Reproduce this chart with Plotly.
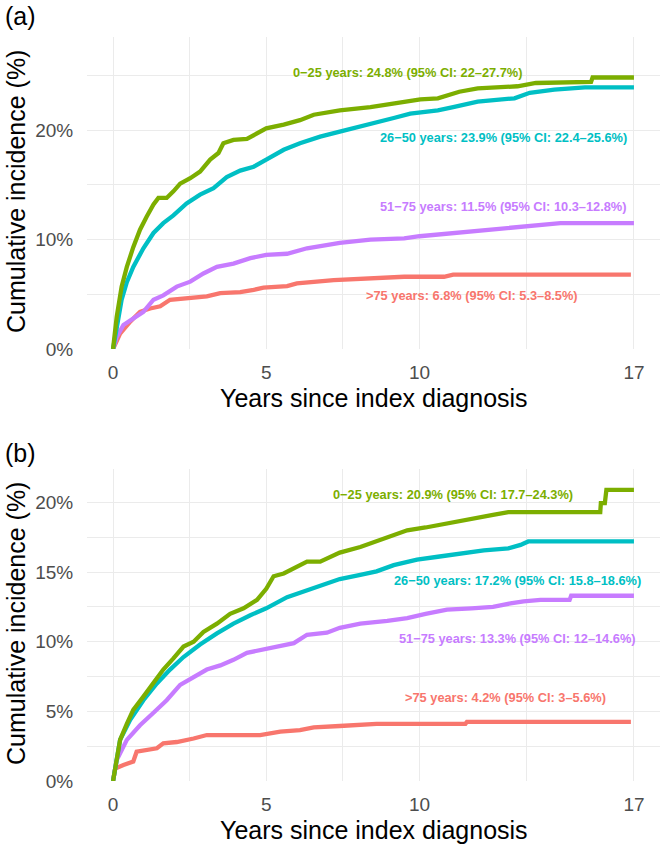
import plotly.graph_objects as go
from plotly.subplots import make_subplots

# ---------------- Data ----------------
groups = ["0\u221225 years", "26\u221250 years", "51\u221275 years", ">75 years"]
colors = ["#7CAE00", "#00BFC4", "#C77CFF", "#F8766D"]

# Panel (a): years since diagnosis / cumulative incidence (%)
a_g1_t = [0, 0.12, 0.28, 0.45, 0.66, 0.88, 1.1, 1.32, 1.48, 1.75, 1.97, 2.19, 2.52, 2.84, 3.17, 3.44, 3.6, 3.93, 4.37, 4.7, 5.0, 5.57, 6.1, 6.55, 7.2, 7.4, 8.4, 9.5, 10.03, 10.6, 10.9, 11.3, 11.9, 13.2, 13.8, 15.6, 15.65, 17.0]
a_g1_v = [0, 2.95, 5.7, 7.5, 9.3, 10.9, 12.1, 13.2, 13.8, 13.8, 14.4, 15.1, 15.6, 16.2, 17.3, 17.9, 18.8, 19.1, 19.2, 19.7, 20.15, 20.5, 20.9, 21.4, 21.7, 21.8, 22.1, 22.6, 22.8, 22.9, 23.2, 23.5, 23.8, 24.0, 24.3, 24.4, 24.8, 24.8]

a_g2_t = [0, 0.12, 0.28, 0.45, 0.66, 0.99, 1.32, 1.64, 1.97, 2.4, 2.84, 3.28, 3.71, 4.15, 4.59, 5.0, 5.57, 6.1, 6.76, 7.4, 7.85, 8.4, 9.16, 9.7, 10.6, 11.1, 11.9, 13.1, 13.6, 14.4, 15.4, 17.0]
a_g2_v = [0, 2.0, 4.5, 6.1, 7.5, 9.2, 10.6, 11.5, 12.2, 13.3, 14.1, 14.7, 15.7, 16.3, 16.65, 17.3, 18.2, 18.8, 19.4, 19.85, 20.15, 20.6, 21.1, 21.5, 21.8, 22.1, 22.6, 22.9, 23.4, 23.7, 23.9, 23.9]

a_g3_t = [0, 0.12, 0.34, 0.66, 0.99, 1.32, 1.64, 2.08, 2.52, 2.95, 3.39, 3.93, 4.48, 5.0, 5.68, 6.33, 6.98, 7.4, 8.4, 9.5, 10.0, 11.1, 12.2, 12.9, 13.8, 14.6, 17.0]
a_g3_v = [0, 1.1, 2.2, 2.8, 3.4, 4.5, 4.9, 5.7, 6.15, 6.9, 7.5, 7.8, 8.3, 8.6, 8.7, 9.2, 9.5, 9.7, 10.0, 10.1, 10.3, 10.6, 10.9, 11.1, 11.3, 11.5, 11.5]

a_g4_t = [0, 0.23, 0.56, 0.88, 1.21, 1.54, 1.86, 2.4, 3.06, 3.5, 4.15, 4.59, 4.91, 5.68, 6.0, 7.2, 8.4, 9.5, 10.8, 11.1, 16.9]
a_g4_v = [0, 1.4, 2.5, 3.4, 3.7, 3.9, 4.5, 4.6, 4.8, 5.1, 5.2, 5.4, 5.6, 5.75, 6.0, 6.3, 6.45, 6.6, 6.6, 6.8, 6.8]

# Panel (b)
b_g1_t = [0, 0.23, 0.45, 0.66, 0.99, 1.32, 1.64, 1.97, 2.3, 2.63, 2.95, 3.39, 3.82, 4.26, 4.7, 5.0, 5.24, 5.57, 6.0, 6.33, 6.76, 7.2, 7.4, 8.07, 8.6, 9.16, 9.6, 10.2, 10.9, 11.4, 12.0, 12.4, 12.9, 15.9, 15.92, 16.05, 16.1, 17.0]
b_g1_v = [0, 2.95, 4.1, 5.1, 6.06, 7.0, 8.0, 8.8, 9.65, 10.0, 10.7, 11.3, 12.0, 12.4, 13.0, 13.8, 14.7, 14.9, 15.4, 15.75, 15.75, 16.2, 16.4, 16.8, 17.2, 17.7, 18.0, 18.2, 18.5, 18.75, 19.0, 19.1, 19.3, 19.3, 19.95, 19.95, 20.9, 20.9]

b_g2_t = [0, 0.23, 0.56, 0.99, 1.43, 1.86, 2.3, 2.84, 3.39, 3.93, 4.48, 5.0, 5.68, 6.33, 6.98, 7.4, 8.07, 8.6, 9.16, 9.92, 10.6, 11.3, 12.1, 12.9, 13.3, 13.55, 17.0]
b_g2_v = [0, 2.95, 4.4, 5.8, 7.0, 8.0, 8.9, 9.8, 10.6, 11.3, 11.9, 12.4, 13.2, 13.7, 14.2, 14.5, 14.8, 15.05, 15.5, 15.9, 16.1, 16.3, 16.55, 16.7, 16.95, 17.2, 17.2]

b_g3_t = [0, 0.12, 0.45, 0.88, 1.32, 1.75, 2.19, 2.63, 3.06, 3.5, 3.93, 4.37, 4.8, 5.35, 5.9, 6.33, 6.98, 7.4, 8.07, 8.95, 9.6, 10.2, 10.9, 11.7, 12.4, 12.97, 13.4, 13.95, 14.9, 14.95, 17.0]
b_g3_v = [0, 1.5, 2.95, 4.0, 4.9, 5.8, 6.9, 7.5, 8.0, 8.3, 8.7, 9.2, 9.4, 9.7, 9.9, 10.5, 10.65, 11.0, 11.3, 11.5, 11.7, 12.0, 12.3, 12.4, 12.5, 12.75, 12.9, 13.0, 13.0, 13.3, 13.3]

b_g4_t = [0, 0.07, 0.34, 0.66, 0.77, 1.1, 1.43, 1.64, 2.08, 2.63, 3.06, 4.8, 5.46, 6.1, 6.55, 7.4, 8.6, 11.5, 11.55, 16.9]
b_g4_v = [0, 0.9, 1.15, 1.4, 2.1, 2.2, 2.35, 2.7, 2.8, 3.05, 3.3, 3.3, 3.55, 3.65, 3.85, 3.95, 4.1, 4.1, 4.25, 4.25]

a_labels = [
    "0\u221225 years: 24.8% (95% CI: 22\u201327.7%)",
    "26\u221250 years: 23.9% (95% CI: 22.4\u201325.6%)",
    "51\u221275 years: 11.5% (95% CI: 10.3\u201312.8%)",
    ">75 years: 6.8% (95% CI: 5.3\u20138.5%)",
]
b_labels = [
    "0\u221225 years: 20.9% (95% CI: 17.7\u201324.3%)",
    "26\u221250 years: 17.2% (95% CI: 15.8\u201318.6%)",
    "51\u221275 years: 13.3% (95% CI: 12\u201314.6%)",
    ">75 years: 4.2% (95% CI: 3\u20135.6%)",
]
a_label_x = [9.6, 12.75, 12.75, 11.7]
a_label_y = [25.3, 19.3, 13.0, 4.9]
b_label_x = [11.1, 13.2, 13.2, 12.8]
b_label_y = [20.6, 14.4, 10.2, 6.0]

x_ticks = [0, 5, 10, 17]
x_minor = [2.5, 7.5, 13.5]
a_y_ticks = [0, 10, 20]
a_y_minor = [5, 15, 25]
b_y_ticks = [0, 5, 10, 15, 20]
b_y_minor = [2.5, 7.5, 12.5, 17.5]

# ---------------- Figure ----------------
FONT = "Liberation Sans, Arial, Helvetica, sans-serif"
W, H = 664, 847
L, R, T, B = 87, 4, 37, 66
plot_h = H - T - B

fig = make_subplots(rows=2, cols=1, vertical_spacing=0.0)

a_series = [(a_g1_t, a_g1_v), (a_g2_t, a_g2_v), (a_g3_t, a_g3_v), (a_g4_t, a_g4_v)]
b_series = [(b_g1_t, b_g1_v), (b_g2_t, b_g2_v), (b_g3_t, b_g3_v), (b_g4_t, b_g4_v)]

LW = 4.3
draw_order = [3, 2, 1, 0]
for i in draw_order:
    t, v = a_series[i]
    fig.add_trace(go.Scatter(x=t, y=v, mode="lines", line=dict(color=colors[i], width=LW),
                             name=groups[i], showlegend=False), row=1, col=1)
for i in draw_order:
    t, v = b_series[i]
    fig.add_trace(go.Scatter(x=t, y=v, mode="lines", line=dict(color=colors[i], width=LW),
                             name=groups[i], showlegend=False), row=2, col=1)

ANN = 12.8
for i in range(4):
    fig.add_annotation(x=a_label_x[i], y=a_label_y[i], xref="x", yref="y", text="<b>%s</b>" % a_labels[i],
                       showarrow=False, xanchor="center", yanchor="middle",
                       font=dict(family=FONT, size=ANN, color=colors[i]))
    fig.add_annotation(x=b_label_x[i], y=b_label_y[i], xref="x2", yref="y2", text="<b>%s</b>" % b_labels[i],
                       showarrow=False, xanchor="center", yanchor="middle",
                       font=dict(family=FONT, size=ANN, color=colors[i]))

def px_y(p):
    return (H - B - p) / plot_h

def px_x(p):
    return (p - L) / (W - L - R)

grid = "#EBEBEB"
common_x = dict(range=[-0.85, 17.85], tickmode="array", tickvals=x_ticks, ticktext=[str(v) for v in x_ticks],
                showgrid=True, gridcolor=grid, gridwidth=1.3, zeroline=False, showline=False,
                ticks="outside", ticklen=6, tickcolor="rgba(0,0,0,0)",
                tickfont=dict(family=FONT, size=19, color="#4D4D4D"),
                minor=dict(tickmode="array", tickvals=x_minor, showgrid=True, gridcolor=grid, gridwidth=0.8))
fig.update_xaxes(**common_x)

fig.update_yaxes(range=[0, 28.5], tickmode="array", tickvals=a_y_ticks, ticktext=["%d%%" % v for v in a_y_ticks],
                 minor=dict(tickmode="array", tickvals=a_y_minor, showgrid=True, gridcolor=grid, gridwidth=0.8),
                 row=1, col=1)
fig.update_yaxes(range=[0, 22.4], tickmode="array", tickvals=b_y_ticks, ticktext=["%d%%" % v for v in b_y_ticks],
                 minor=dict(tickmode="array", tickvals=b_y_minor, showgrid=True, gridcolor=grid, gridwidth=0.8),
                 row=2, col=1)
fig.update_yaxes(showgrid=True, gridcolor=grid, gridwidth=1.3, zeroline=False, showline=False,
                 ticks="outside", ticklen=9, tickcolor="rgba(0,0,0,0)",
                 tickfont=dict(family=FONT, size=19, color="#4D4D4D"))

a_top, a_bot = 37, 349
b_top, b_bot = 469, 781
fig.update_layout(
    yaxis=dict(domain=[px_y(a_bot), px_y(a_top)]),
    yaxis2=dict(domain=[px_y(b_bot), px_y(b_top)]),
)

TF = 25
for (top, bot, xt_y, lab, lab_y) in [(a_top, a_bot, 398, "(a)", 16), (b_top, b_bot, 830, "(b)", 453)]:
    fig.add_annotation(x=px_x(374), y=px_y(xt_y), xref="paper", yref="paper", text="Years since index diagnosis",
                       showarrow=False, xanchor="center", yanchor="middle",
                       font=dict(family=FONT, size=TF, color="black"))
    fig.add_annotation(x=px_x(16), y=px_y((top + bot) / 2 - 1), xref="paper", yref="paper",
                       text="Cumulative incidence (%)", textangle=-90,
                       showarrow=False, xanchor="center", yanchor="middle",
                       font=dict(family=FONT, size=TF, color="black"))
    fig.add_annotation(x=px_x(20), y=px_y(lab_y), xref="paper", yref="paper", text=lab,
                       showarrow=False, xanchor="center", yanchor="middle",
                       font=dict(family=FONT, size=TF, color="black"))

fig.update_layout(width=W, height=H, autosize=False, margin=dict(l=L, r=R, t=T, b=B),
                  plot_bgcolor="white", paper_bgcolor="white", showlegend=False)

fig.write_html("out.html")
